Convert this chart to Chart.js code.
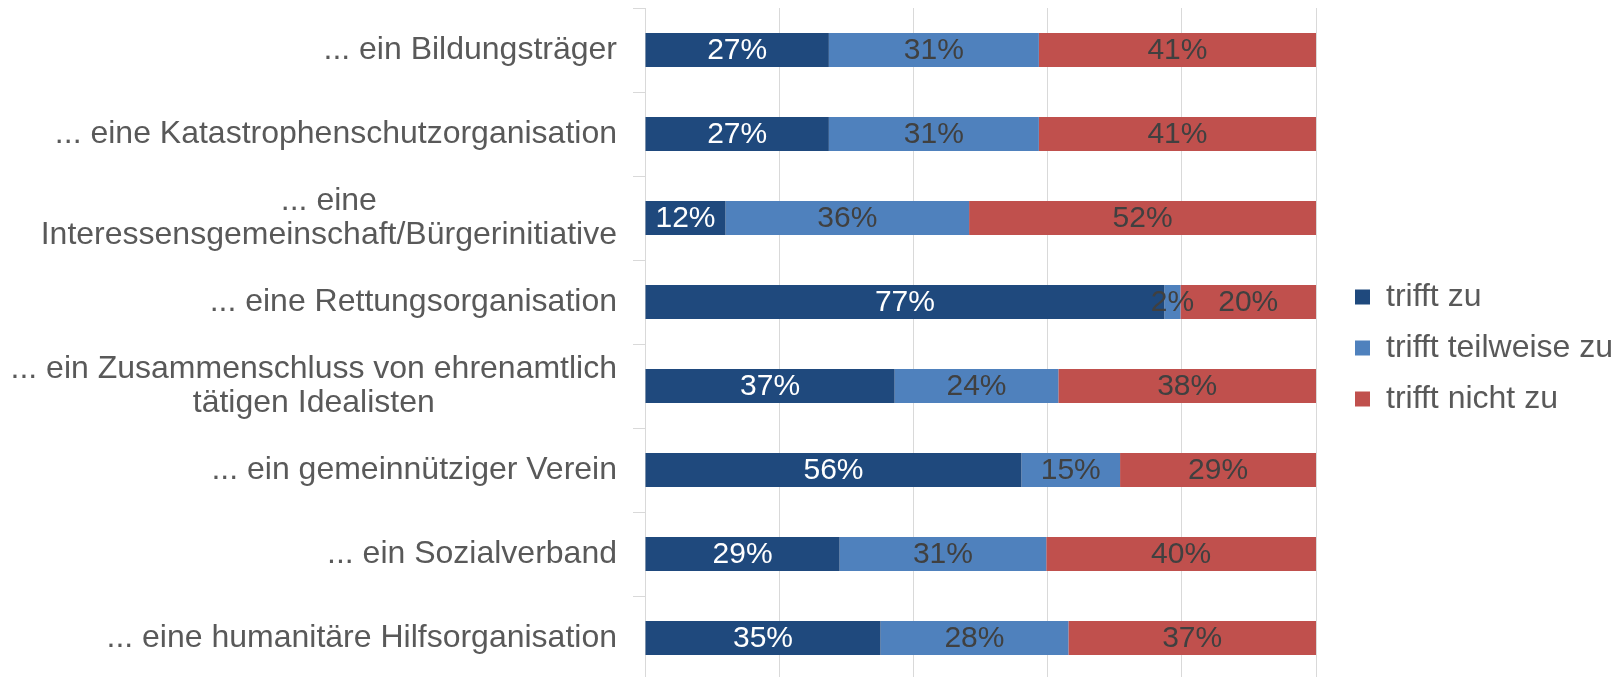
<!DOCTYPE html>
<html>
<head>
<meta charset="utf-8">
<script src="https://cdn.jsdelivr.net/npm/chart.js"></script>
<style>
html,body{margin:0;padding:0;overflow:hidden;background:#fff;width:1623px;height:677px}
canvas{display:block}
</style>
</head>
<body>
<canvas id="c" width="1623" height="690"></canvas>
<script>
// ---- data ----
const categories = [
  ['... ein Bildungsträger'],
  ['... eine Katastrophenschutzorganisation'],
  ['... eine', 'Interessensgemeinschaft/Bürgerinitiative'],
  ['... eine Rettungsorganisation'],
  ['... ein Zusammenschluss von ehrenamtlich', 'tätigen Idealisten'],
  ['... ein gemeinnütziger Verein'],
  ['... ein Sozialverband'],
  ['... eine humanitäre Hilfsorganisation']
];
const seriesNames = ['trifft zu', 'trifft teilweise zu', 'trifft nicht zu'];
const trifftZu        = [27.4, 27.4, 12.0, 77.4, 37.2, 56.1, 29.0, 35.1];
const trifftTeilweise = [31.3, 31.3, 36.3,  2.4, 24.4, 14.7, 30.8, 28.0];
const trifftNicht     = [41.3, 41.3, 51.7, 20.2, 38.4, 29.2, 40.2, 36.9];
const xTicks = [0, 20, 40, 60, 80, 100];

// ---- styles ----
const FONT = '"Liberation Sans", Arial, sans-serif';
const barColors = ['#1F497D', '#4F81BD', '#C0504D'];
const labelColors = ['#FFFFFF', '#404040', '#404040'];
const textColor = '#595959';
const gridColor = '#D9D9D9';

Chart.defaults.font.family = FONT;

const yLabelPlugin = {
  id: 'yLabels',
  afterDraw(chart) {
    const ctx = chart.ctx, ys = chart.scales.y;
    ctx.save();
    ctx.font = '32px ' + FONT;
    ctx.fillStyle = textColor;
    ctx.textAlign = 'center';
    ctx.textBaseline = 'middle';
    const right = ys.right - 28;
    chart.data.labels.forEach((lines, i) => {
      const yc = ys.getPixelForValue(i);
      const w = Math.max(...lines.map(l => ctx.measureText(l).width));
      const cx = right - w / 2;
      lines.forEach((l, j) => ctx.fillText(l, cx, yc + (j - (lines.length - 1) / 2) * 34));
    });
    ctx.restore();
  }
};

const valuePlugin = {
  id: 'barValues',
  afterDatasetsDraw(chart) {
    const ctx = chart.ctx;
    ctx.save();
    ctx.font = '30px ' + FONT;
    ctx.textAlign = 'center';
    ctx.textBaseline = 'middle';
    chart.data.datasets.forEach((ds, di) => {
      const meta = chart.getDatasetMeta(di);
      ctx.fillStyle = labelColors[di];
      meta.data.forEach((bar, i) => {
        const p = bar.getCenterPoint();
        ctx.fillText(Math.round(ds.data[i]) + '%', p.x, p.y + 1);
      });
    });
    ctx.restore();
  }
};

const legendPlace = {
  id: 'legendPlace',
  afterLayout(chart) {
    const lg = chart.legend;
    if (!lg) return;
    const pad = lg.options.labels.padding;
    lg.left = 1355 - pad; lg.right = chart.width; lg.width = lg.right - lg.left;
    lg.top = 0; lg.bottom = 696; lg.height = 696;
  }
};

new Chart(document.getElementById('c'), {
  type: 'bar',
  data: {
    labels: categories,
    datasets: [
      { label: seriesNames[0], data: trifftZu, backgroundColor: barColors[0] },
      { label: seriesNames[1], data: trifftTeilweise, backgroundColor: barColors[1] },
      { label: seriesNames[2], data: trifftNicht, backgroundColor: barColors[2] }
    ]
  },
  options: {
    responsive: false,
    animation: false,
    devicePixelRatio: 1,
    indexAxis: 'y',
    events: [],
    datasets: { bar: { categoryPercentage: 0.405, barPercentage: 1.0, borderWidth: 0 } },
    layout: { padding: { top: 8, bottom: 10, left: 0, right: 107 } },
    scales: {
      x: {
        stacked: true,
        min: xTicks[0], max: xTicks[xTicks.length - 1],
        ticks: { display: false, stepSize: xTicks[1] - xTicks[0] },
        grid: { color: gridColor, drawTicks: false, lineWidth: 1 },
        border: { display: false }
      },
      y: {
        stacked: true,
        ticks: { display: false },
        grid: { color: gridColor, drawOnChartArea: false, drawTicks: true, tickLength: 12, offset: true },
        border: { display: true, color: gridColor, width: 1 },
        afterFit(s) { s.width = 645; }
      }
    },
    plugins: {
      tooltip: { enabled: false },
      legend: {
        position: 'right',
        maxWidth: 200,
        labels: {
          color: textColor,
          font: { size: 32, family: FONT },
          boxWidth: 15,
          boxHeight: 15,
          padding: 19
        }
      }
    }
  },
  plugins: [yLabelPlugin, valuePlugin, legendPlace]
});
</script>
</body>
</html>
